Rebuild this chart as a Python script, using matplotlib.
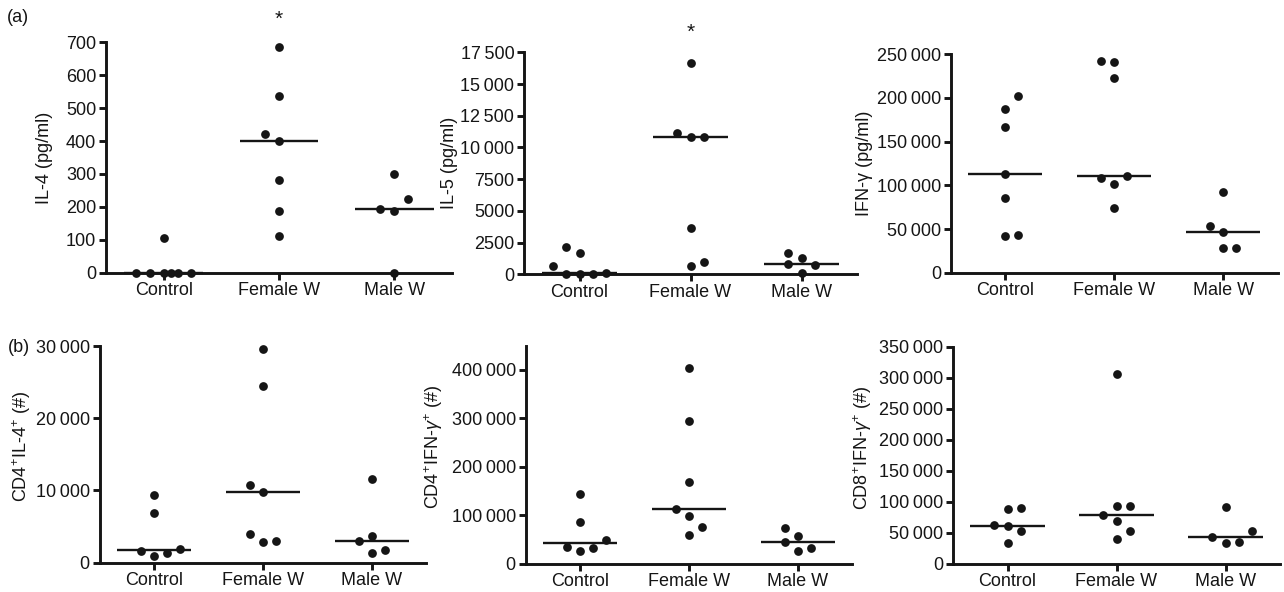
import numpy as np
import matplotlib
matplotlib.use("Agg")
import matplotlib.pyplot as plt
from matplotlib.ticker import FuncFormatter

plt.rcParams["font.family"] = ["Liberation Sans", "DejaVu Sans"]
plt.rcParams["mathtext.fontset"] = "custom"
plt.rcParams["mathtext.rm"] = "Liberation Sans"
plt.rcParams["mathtext.it"] = "Liberation Sans:italic"

GROUPS = ["Control", "Female W", "Male W"]

# (a) cytokines, pg/ml
IL4_CONTROL = [0, 0, 0, 0, 0, 0, 106]
IL4_FEMALE = [685, 536, 420, 400, 281, 186, 113]
IL4_MALE = [300, 223, 193, 188, 0]

IL5_CONTROL = [2150, 1680, 680, 0, 0, 0, 130]
IL5_FEMALE = [16660, 11100, 10800, 10850, 3680, 680, 1000]
IL5_MALE = [1680, 1260, 790, 735, 130]

IFNG_CONTROL = [202700, 187400, 166800, 112600, 85100, 42000, 43100]
IFNG_FEMALE = [242400, 241200, 222900, 108800, 101900, 111100, 74400]
IFNG_MALE = [92700, 53800, 47000, 28200, 28200]

# (b) cell counts
CD4IL4_CONTROL = [9370, 6830, 1660, 920, 1290, 1850]
CD4IL4_FEMALE = [29540, 24420, 10750, 9780, 4015, 2860, 2950]
CD4IL4_MALE = [11630, 2950, 3740, 1340, 1750]

CD4IFN_CONTROL = [143200, 86700, 48900, 35100, 26900, 33000]
CD4IFN_FEMALE = [404100, 295400, 168000, 113600, 99100, 75700, 59200]
CD4IFN_MALE = [73000, 57800, 45400, 31700, 26200]

CD8IFN_CONTROL = [87600, 90300, 62400, 60800, 53200, 32800]
CD8IFN_FEMALE = [305900, 93000, 93000, 79000, 68300, 53200, 39800]
CD8IFN_MALE = [91400, 42500, 33900, 34900, 52200]

# scatter column (dodge slot) of each point, same order as the values above
IL4_SLOTS = ([-2, -1, 0, 0.5, 1, 2, 0], [0, 0, -1, 0, 0, 0, 0], [0, 1, -1, 0, 0])
IL5_SLOTS = ([-1, 0, -2, -1, 0, 1, 2], [0, -1, 0, 1, 0, 0, 1], [-1, 0, -1, 1, 0])
IFNG_SLOTS = ([1, 0, 0, 0, 0, 0, 1], [-1, 0, 0, -1, 0, 1, 0], [0, -1, 0, 0, 1])
CD4IL4_SLOTS = ([0, 0, -1, 0, 1, 2], [0, 0, -1, 0, -1, 0, 1], [0, -1, 0, 0, 1])
CD4IFN_SLOTS = ([0, 0, 2, -1, 0, 1], [0, 0, 0, -1, 0, 1, 0], [-1, 0, -1, 1, 0])
CD8IFN_SLOTS = ([0, 1, -1, 0, 1, 0], [0, 0, 1, -1, 0, 1, 0], [0, -1, 0, 1, 2])

INK = "#151515"
W, H = 1284, 592
STEP = 0.12      # horizontal spacing between scatter columns
HALF = 0.34      # half width of median bar


def rect(l, t, r, b):
    return [l / W, 1 - b / H, (r - l) / W, (b - t) / H]


def fmt(v, _):
    v = int(round(v))
    if v < 10000:
        return str(v)
    return f"{v:,}".replace(",", "\u2009")


panels = [
    # data, slots, ylim top, tick max, tick step, ylabel, rect px (l,t,r,b), label right px, label y, star pt
    ((IL4_CONTROL, IL4_FEMALE, IL4_MALE), IL4_SLOTS, 700, 700, 100,
     "IL-4 (pg/ml)", (106, 42.3, 452, 272.7), 53, 0.5, 12.5),
    ((IL5_CONTROL, IL5_FEMALE, IL5_MALE), IL5_SLOTS, 17500, 17500, 2500,
     "IL-5 (pg/ml)", (524, 52.3, 857, 274.3), 458, 0.5, 10.5),
    ((IFNG_CONTROL, IFNG_FEMALE, IFNG_MALE), IFNG_SLOTS, 250000, 250000, 50000,
     "IFN-γ (pg/ml)", (951, 54.3, 1277.5, 272.7), 873, 0.5, None),
    ((CD4IL4_CONTROL, CD4IL4_FEMALE, CD4IL4_MALE), CD4IL4_SLOTS, 30000, 30000, 10000,
     "CD4$^{+}$IL-4$^{+}$ (#)", (99.5, 346, 426.5, 562.7), 33, 0.535, None),
    ((CD4IFN_CONTROL, CD4IFN_FEMALE, CD4IFN_MALE), CD4IFN_SLOTS, 450000, 400000, 100000,
     "CD4$^{+}$IFN-$\\gamma^{+}$ (#)", (525.5, 345.7, 852.5, 563.7), 445, 0.535, None),
    ((CD8IFN_CONTROL, CD8IFN_FEMALE, CD8IFN_MALE), CD8IFN_SLOTS, 350000, 350000, 50000,
     "CD8$^{+}$IFN-$\\gamma^{+}$ (#)", (953, 346.7, 1280, 563.7), 874, 0.535, None),
]

fig = plt.figure(figsize=(W / 100, H / 100), dpi=100)

for data, slots, top, tmax, tstep, ylab, (l, t, r, b), lab_px, lab_y, star in panels:
    ax = fig.add_axes(rect(l, t, r, b))
    for i, (vals, sl) in enumerate(zip(data, slots)):
        x = i + np.asarray(sl, dtype=float) * STEP
        ax.plot(x, vals, "o", ms=6.3, color=INK, mec="none", clip_on=False, zorder=3)
        m = np.median(vals)
        ax.plot([i - HALF, i + HALF], [m, m], color=INK, lw=1.7,
                solid_capstyle="butt", clip_on=False, zorder=2.8)
    ax.set_xlim(-0.5, 2.5)
    ax.set_ylim(0, top)
    ax.set_yticks(np.arange(0, tmax + 1, tstep))
    ax.yaxis.set_major_formatter(FuncFormatter(fmt))
    ax.set_xticks(range(len(GROUPS)))
    ax.set_xticklabels(GROUPS)
    ax.spines[["top", "right"]].set_visible(False)
    for s in ("left", "bottom"):
        ax.spines[s].set_linewidth(2.1)
        ax.spines[s].set_color(INK)
    ax.tick_params(direction="out", length=5, width=2.1, color=INK,
                   labelsize=13, labelcolor=INK, pad=2)
    ax.set_ylabel(ylab, fontsize=13, color=INK)
    ax.yaxis.set_label_coords((lab_px - l) / (r - l), lab_y)
    if star is not None:
        ax.annotate("*", xy=(1, top), xytext=(0, star), textcoords="offset points",
                    ha="center", va="baseline", fontsize=15, color=INK,
                    annotation_clip=False)

fig.text(7 / W, 1 - 17 / H, "(a)", ha="left", va="center", fontsize=13, color=INK)
fig.text(8 / W, 1 - 347 / H, "(b)", ha="left", va="center", fontsize=13, color=INK)

fig.savefig("out.png", dpi=100, facecolor="white")
